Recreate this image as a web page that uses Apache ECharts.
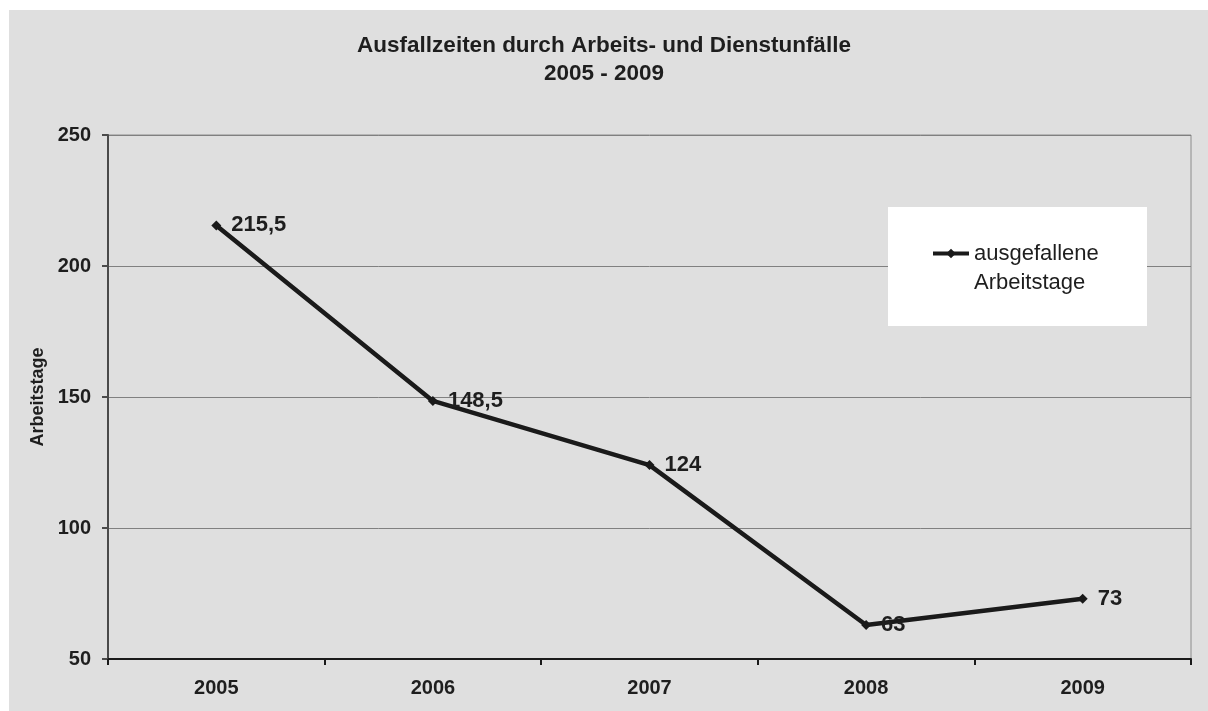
<!DOCTYPE html>
<html>
<head>
<meta charset="utf-8">
<title>Ausfallzeiten</title>
<script src="https://cdn.jsdelivr.net/npm/echarts@6/dist/echarts.min.js"></script>
<style>
    html, body { margin: 0; padding: 0; background: #fff; }
    #main { width: 1208px; height: 711px; }
</style>
</head>
<body>
<div id="main"></div>
<script>
// Daten
var years = ['2005', '2006', '2007', '2008', '2009'];
var ausgefalleneTage = [215.5, 148.5, 124, 63, 73];
var yTicks = [50, 100, 150, 200, 250];

var fontName = '"Liberation Sans", Arial, sans-serif';
var textColor = '#1e1e1e';

function formatNumber(v) {
    return String(v).replace('.', ',');
}

function setChartData() {
    var myChart = echarts.init(document.getElementById('main'));
    var option;

    option = {
        backgroundColor: '#ffffff',
        textStyle: { fontFamily: fontName },
        animation: false,
        title: {
            text: 'Ausfallzeiten durch Arbeits- und Dienstunfälle\n2005 - 2009',
            left: 'center',
            top: 27,
            textStyle: {
                fontSize: 22.5,
                fontWeight: 'bold',
                lineHeight: 28,
                color: textColor,
                fontFamily: fontName
            }
        },
        // grauer Hintergrund + weisse Legendenbox
        graphic: [
            {
                type: 'rect',
                z: -10,
                silent: true,
                shape: { x: 9, y: 10, width: 1199, height: 701 },
                style: { fill: '#dfdfdf' }
            },
            {
                type: 'rect',
                z: 5,
                silent: true,
                shape: { x: 888, y: 207, width: 259, height: 119 },
                style: { fill: '#ffffff' }
            }
        ],
        legend: {
            left: 931,
            top: 210,
            padding: 0,
            z: 10,
            itemWidth: 36,
            itemHeight: 12,
            data: ['ausgefallene Arbeitstage'],
            lineStyle: { width: 4, color: '#1a1a1a' },
            // leere erste Zeile, damit das Symbol auf Hoehe der ersten Textzeile sitzt
            formatter: function () {
                return '{e|}\n{t|ausgefallene}\n{t|Arbeitstage}';
            },
            textStyle: {
                color: textColor,
                fontFamily: fontName,
                rich: {
                    e: { height: 29, lineHeight: 29, fontSize: 22 },
                    t: { fontSize: 22, lineHeight: 29, color: textColor, fontFamily: fontName }
                }
            }
        },
        grid: {
            left: 108,
            top: 135,
            right: 17,
            bottom: 52,
            show: true,
            borderColor: '#8c8c8c',
            borderWidth: 1,
            backgroundColor: 'transparent'
        },
        xAxis: {
            type: 'category',
            data: years,
            boundaryGap: true,
            axisLine: { lineStyle: { color: '#1a1a1a', width: 2 } },
            axisTick: { show: true, length: 6, lineStyle: { color: '#1a1a1a', width: 2 } },
            axisLabel: {
                margin: 19,
                fontSize: 20,
                fontWeight: 'bold',
                color: textColor,
                fontFamily: fontName
            }
        },
        yAxis: {
            type: 'value',
            min: yTicks[0],
            max: yTicks[yTicks.length - 1],
            interval: 50,
            name: 'Arbeitstage',
            nameLocation: 'middle',
            nameRotate: 90,
            nameGap: 61,
            nameTextStyle: {
                fontSize: 18,
                fontWeight: 'bold',
                color: textColor,
                fontFamily: fontName
            },
            axisLine: { show: true, lineStyle: { color: '#4a4a4a', width: 2 } },
            axisTick: { show: true, length: 6, lineStyle: { color: '#4a4a4a', width: 2 } },
            axisLabel: {
                margin: 17,
                fontSize: 20,
                fontWeight: 'bold',
                color: textColor,
                fontFamily: fontName
            },
            splitLine: { lineStyle: { color: '#808080', width: 1 } }
        },
        series: [
            {
                name: 'ausgefallene Arbeitstage',
                type: 'line',
                data: ausgefalleneTage,
                symbol: 'diamond',
                symbolSize: 10,
                lineStyle: { color: '#1a1a1a', width: 4.5 },
                itemStyle: { color: '#1a1a1a' },
                label: {
                    show: true,
                    position: 'right',
                    distance: 10,
                    fontSize: 22,
                    fontWeight: 'bold',
                    color: textColor,
                    fontFamily: fontName,
                    formatter: function (p) { return formatNumber(p.value); }
                }
            }
        ]
    };

    myChart.setOption(option);
}

setChartData();
</script>
</body>
</html>
